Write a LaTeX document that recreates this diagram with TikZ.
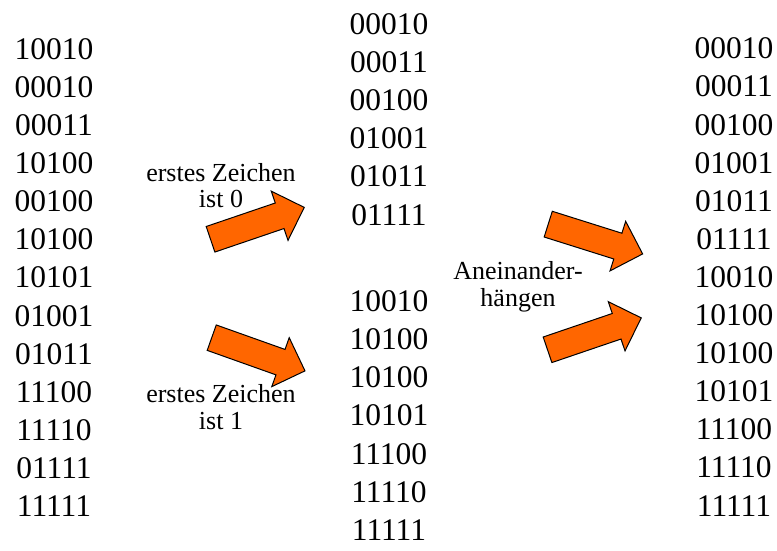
\documentclass[tikz,border=0pt]{standalone}
\usepackage{fontspec}
\setmainfont{Liberation Serif}
\usetikzlibrary{shapes.arrows}
\definecolor{arrowfill}{HTML}{FF6600}
\tikzset{bits/.style={font=\fontsize{31.5}{38.1}\selectfont, align=center, inner sep=0pt},
  note/.style={font=\fontsize{26}{26.5}\selectfont, align=center, inner sep=0pt},
  fatarrow/.style={single arrow, draw=black, fill=arrowfill, line width=1pt,
    inner xsep=0pt, inner ysep=13pt, text height=0pt, text depth=0pt,
    single arrow head extend=12.5pt, minimum width=51pt, minimum height=99pt}}

\begin{document}
\begin{tikzpicture}[x=1pt,y=-1pt]
\useasboundingbox (0,0) rectangle (777,550);
% unsorted input
\node[bits] (input) at (54,277.5) {10010\\00010\\00011\\10100\\00100\\10100\\10101\\01001\\01011\\11100\\11110\\01111\\11111};
% split by the first bit
\node[bits] (zeros) at (389,119.5) {00010\\00011\\00100\\01001\\01011\\01111};
\node[bits] (ones) at (389,415.5) {10010\\10100\\10100\\10101\\11100\\11110\\11111};
% result
\node[bits] (output) at (734,277) {00010\\00011\\00100\\01001\\01011\\01111\\10010\\10100\\10100\\10101\\11100\\11110\\11111};
\node[note] (first0) at (221,185.5) {erstes Zeichen\\ist 0};
\node[note] (first1) at (221,407) {erstes Zeichen\\ist 1};
\node[note] (concat) at (518,287) {Aneinander-\\hängen};
\node[fatarrow, rotate=18.8] (a0) at (251,225.5) {};
\node[fatarrow, rotate=-19.6] (a1) at (252,352) {};
\node[fatarrow, rotate=-17.5] (a2) at (589,237) {};
\node[fatarrow, rotate=18.8] (a3) at (588,336) {};
\end{tikzpicture}
\end{document}
